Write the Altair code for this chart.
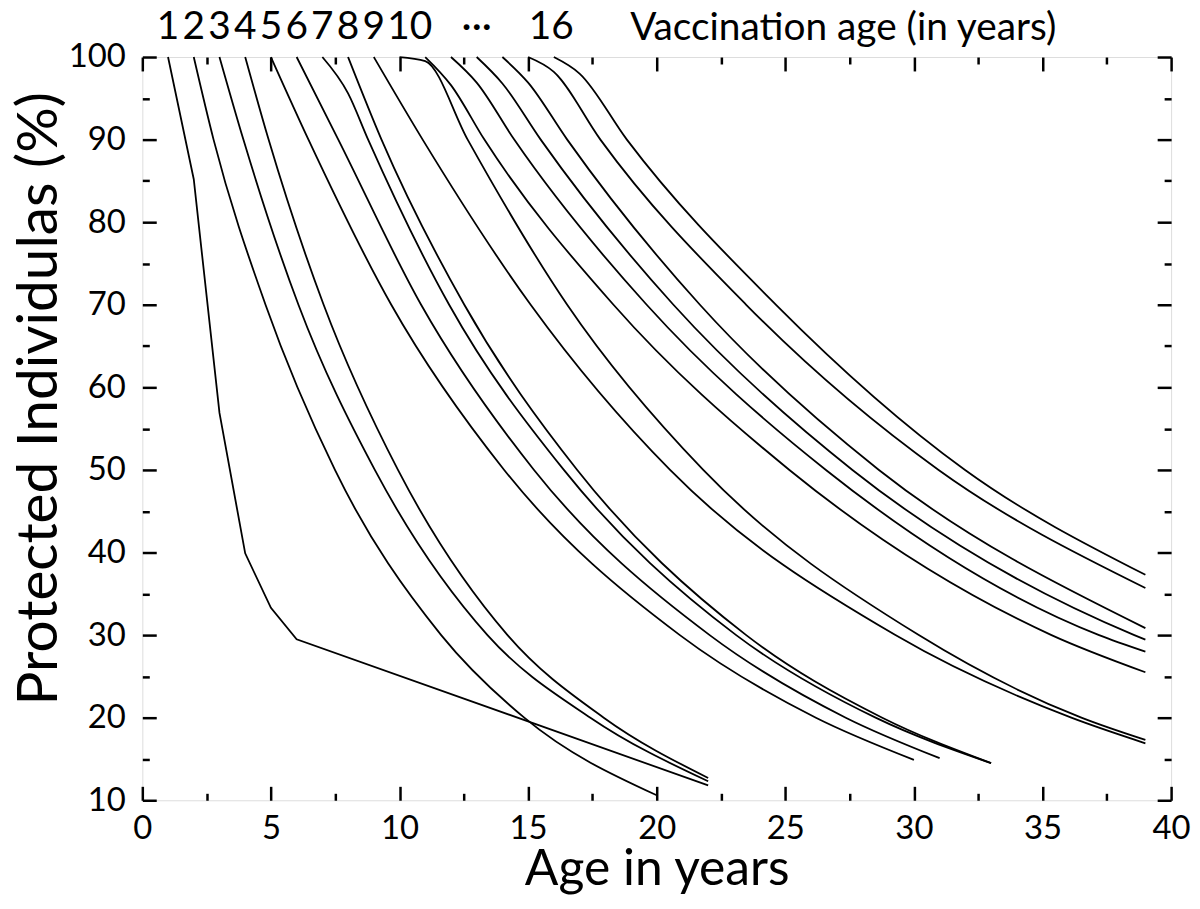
import altair as alt
import pandas as pd

FONT = "Lato"

# ---- data: age (years) and protected individuals (%) for each vaccination age ----
age_v1 = [1, 2, 3, 4, 5, 6, 22]
pct_v1 = [100, 85.2, 56.9, 39.9, 33.3, 29.5, 11.8]

age_v2 = [2, 2.77, 4.79, 7.49, 11.62, 14.85, 20]
pct_v2 = [100, 90, 70, 50, 30, 20, 10.6]

age_v3 = [3, 3.93, 6.07, 9.04, 13.42, 17.42, 22]
pct_v3 = [100, 90, 70, 50, 30, 20, 12.3]

age_v4 = [4, 4.91, 7.05, 9.94, 14.2, 17.94, 22]
pct_v4 = [100, 90, 70, 50, 30, 20, 12.7]

age_v5 = [5, 6.46, 9.68, 14.07, 20.9, 26.19, 30]
pct_v5 = [100, 90, 70, 50, 30, 20, 14.9]

age_v6 = [6, 7.62, 10.84, 15.23, 22.06, 27.35, 31]
pct_v6 = [100, 90, 70, 50, 30, 20, 15.1]

age_v7 = [7, 8, 8.78, 11.93, 16.39, 23.09, 28.51, 33]
pct_v7 = [100, 95.6, 90, 70, 50, 30, 20, 14.5]

age_v8 = [8, 9.3, 12.52, 16.91, 23.48, 28.77, 33]
pct_v8 = [100, 90, 70, 50, 30, 20, 14.5]

age_v9 = [9, 10.9, 15.1, 20.52, 29.28, 36.12, 39]
pct_v9 = [100, 90, 70, 50, 30, 20, 16.9]

age_v10 = [10, 11, 12.65, 16.52, 21.81, 30.19, 36.51, 39]
pct_v10 = [100, 99.5, 90, 70, 50, 30, 20, 17.3]

age_v11 = [11, 12, 13.3, 18.32, 25.16, 35.35, 39]
pct_v11 = [100, 96.6, 90, 70, 50, 30, 25.5]

age_v12 = [12, 13, 14.46, 19.61, 26.58, 37.2, 39]
pct_v12 = [100, 96.9, 90, 70, 50, 30, 28.0]

age_v13 = [13, 14, 15.49, 20.65, 27.61, 38.57, 39]
pct_v13 = [100, 96.8, 90, 70, 50, 30, 29.45]

age_v14 = [14, 15, 16.52, 21.68, 28.64, 39]
pct_v14 = [100, 96.9, 90, 70, 50, 30.85]

age_v15 = [15, 16, 17.81, 23.48, 30.96, 39]
pct_v15 = [100, 98.2, 90, 70, 50, 35.7]

age_v16 = [16, 17, 18.84, 24.64, 31.99, 39]
pct_v16 = [100, 98.0, 90, 70, 50, 37.3]

top_label_text = ["1", "2", "3", "4", "5", "6", "7", "8", "9", "10", "\u00b7\u00b7\u00b7", "16"]
top_label_age = [1, 2, 3, 4, 5, 6, 7, 8, 9, 10.4, 13, 15.9]

x_major = [0, 5, 10, 15, 20, 25, 30, 35, 40]
x_minor = [2.5, 7.5, 12.5, 17.5, 22.5, 27.5, 32.5, 37.5]
y_major = [10, 20, 30, 40, 50, 60, 70, 80, 90, 100]
y_minor = [15, 25, 35, 45, 55, 65, 75, 85, 95]

curves = [
    (age_v1, pct_v1), (age_v2, pct_v2), (age_v3, pct_v3), (age_v4, pct_v4),
    (age_v5, pct_v5), (age_v6, pct_v6), (age_v7, pct_v7), (age_v8, pct_v8),
    (age_v9, pct_v9), (age_v10, pct_v10), (age_v11, pct_v11), (age_v12, pct_v12),
    (age_v13, pct_v13), (age_v14, pct_v14), (age_v15, pct_v15), (age_v16, pct_v16),
]
rows = []
for v, (ages, pcts) in enumerate(curves, start=1):
    for a, p in zip(ages, pcts):
        rows.append({"vacc": v, "age": a, "pct": p})
df = pd.DataFrame(rows)
df_first = df[df.vacc == 1]
df_rest = df[df.vacc > 1]
df_top = pd.DataFrame({"label": top_label_text, "age": top_label_age})

x_scale = alt.Scale(domain=[0, 40], nice=False, zero=False)
y_scale = alt.Scale(domain=[10, 100], nice=False, zero=False)

common = dict(domain=False, grid=False, tickColor="black", tickWidth=2.5,
              labelColor="black", labelFont=FONT, titleFont=FONT,
              titleColor="black", titleFontWeight="normal")

ax_bottom = alt.Axis(orient="bottom", values=x_major, tickSize=14, offset=-14,
                     labelFontSize=33, labelPadding=12, labelFlush=False,
                     title="Age in years", titleFontSize=50, titleX=517, titleY=99,
                     titleAlign="center", titleBaseline="alphabetic", format="d", **common)
ax_left = alt.Axis(orient="left", values=y_major, tickSize=14, offset=-14,
                   labelFontSize=33, labelPadding=17, labelFlush=False,
                   title="Protected Individulas (%)", titleFontSize=57, titleAngle=270,
                   titleX=-100, titleY=343, titleAlign="center",
                   titleBaseline="alphabetic", format="d", **common)
ax_bottom_minor = alt.Axis(orient="bottom", values=x_minor, tickSize=7, offset=-7,
                           labels=False, title=None, **common)
ax_left_minor = alt.Axis(orient="left", values=y_minor, tickSize=7, offset=-7,
                         labels=False, title=None, **common)
ax_top = alt.Axis(orient="top", values=x_major, tickSize=14, offset=-14, labels=False,
                  title="Vaccination age (in years)", titleFontSize=39, titleX=704,
                  titleY=-32, titleAlign="center", titleBaseline="alphabetic", **common)
ax_right = alt.Axis(orient="right", values=y_major, tickSize=14, offset=-14,
                    labels=False, title=None, **common)
ax_top_minor = alt.Axis(orient="top", values=x_minor, tickSize=7, offset=-7,
                        labels=False, title=None, **common)
ax_right_minor = alt.Axis(orient="right", values=y_minor, tickSize=7, offset=-7,
                          labels=False, title=None, **common)

lines_rest = alt.Chart(df_rest).mark_line(
    color="black", strokeWidth=1.8, interpolate="monotone"
).encode(
    x=alt.X("age:Q", scale=x_scale, axis=ax_bottom),
    y=alt.Y("pct:Q", scale=y_scale, axis=ax_left),
    detail="vacc:N",
    order="age:Q",
)

line_first = alt.Chart(df_first).mark_line(color="black", strokeWidth=1.8).encode(
    x=alt.X("age:Q", scale=x_scale, axis=ax_bottom_minor),
    y=alt.Y("pct:Q", scale=y_scale, axis=ax_left_minor),
    order="age:Q",
)

axes_tr = alt.Chart(df).mark_point(opacity=0).encode(
    x=alt.X("age:Q", scale=x_scale, axis=ax_top),
    y=alt.Y("pct:Q", scale=y_scale, axis=ax_right),
)
axes_tr_minor = alt.Chart(df).mark_point(opacity=0).encode(
    x=alt.X("age:Q", scale=x_scale, axis=ax_top_minor),
    y=alt.Y("pct:Q", scale=y_scale, axis=ax_right_minor),
)

top_labels = alt.Chart(df_top).mark_text(
    font=FONT, fontSize=39, baseline="alphabetic", align="center", color="black"
).encode(
    x=alt.X("age:Q", scale=x_scale, axis=None),
    y=alt.value(-18),
    text="label:N",
)

chart = alt.layer(lines_rest, line_first, axes_tr, axes_tr_minor, top_labels).resolve_axis(
    x="independent", y="independent"
).properties(
    width=1034, height=747,
    padding={"left": 135, "top": 47, "right": 21, "bottom": 104},
    autosize=alt.AutoSizeParams(type="none"),
).configure_view(stroke="black", strokeWidth=2.5).configure(background="white")

chart.save("out.html", embed_options={"renderer": "svg", "actions": False})
